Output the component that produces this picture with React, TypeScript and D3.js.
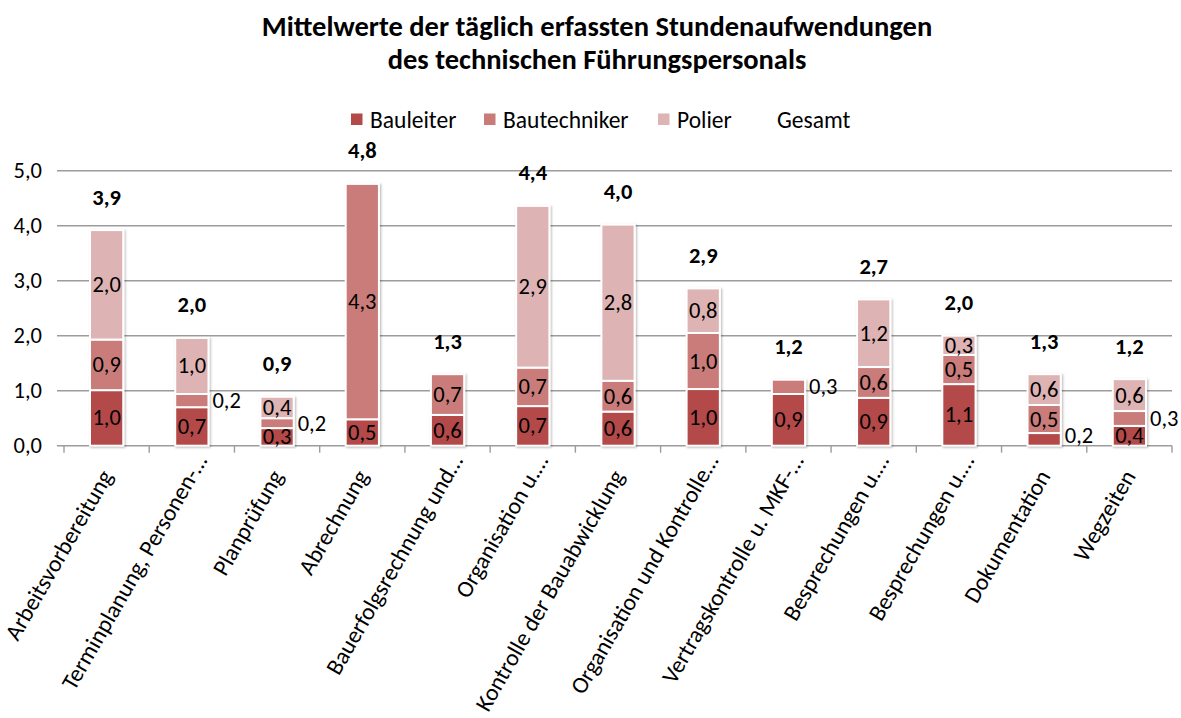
import React from "react";
import * as d3 from "d3";

const categories = [
  "Arbeitsvorbereitung",
  "Terminplanung, Personen-…",
  "Planprüfung",
  "Abrechnung",
  "Bauerfolgsrechnung und…",
  "Organisation u.…",
  "Kontrolle der Bauabwicklung",
  "Organisation und Kontrolle…",
  "Vertragskontrolle u. MKF-…",
  "Besprechungen u.…",
  "Besprechungen u.…",
  "Dokumentation",
  "Wegzeiten",
];
const bauleiter = [1.01, 0.7, 0.32, 0.48, 0.56, 0.72, 0.62, 1.03, 0.94, 0.87, 1.12, 0.23, 0.36];
const bautechniker = [0.92, 0.24, 0.18, 4.28, 0.74, 0.7, 0.56, 1.02, 0.26, 0.56, 0.53, 0.51, 0.27];
const polier = [1.99, 1.02, 0.39, 0, 0, 2.94, 2.84, 0.81, 0, 1.23, 0.35, 0.56, 0.58];
const seriesNames = ["Bauleiter", "Bautechniker", "Polier"];
const totalName = "Gesamt";
const yTicks = [0, 1, 2, 3, 4, 5];
const titleLines = [
  "Mittelwerte der täglich erfassten Stundenaufwendungen",
  "des technischen Führungspersonals",
];
const colors = ["#B34A48", "#C97B7A", "#DEB3B3"];

const W = 1181;
const H = 718;
const FONT = "Carlito, Lato, 'Open Sans', sans-serif";
const FS = 23.5;
const FN = 22.5;

const fmt = (v: number) => v.toFixed(1).replace(".", ",");

export default function App() {
  const rows = categories.map((c, i) => ({
    i,
    Bauleiter: bauleiter[i],
    Bautechniker: bautechniker[i],
    Polier: polier[i],
  }));
  const totals = rows.map((r) => r.Bauleiter + r.Bautechniker + r.Polier);
  const stack = d3.stack<any>().keys(seriesNames);
  const layers = stack(rows);

  const x = d3
    .scaleBand<number>()
    .domain(categories.map((_, i) => i))
    .range([64, 1172])
    .paddingInner(0.61)
    .paddingOuter(0.305);
  const y = d3.scaleLinear().domain([0, 5]).range([445.7, 170.7]);
  const bw = x.bandwidth();
  const step = x.step();

  const legendSquares = [351, 484, 658];
  const legendTexts = [370, 503, 677, 777];

  return (
    <div style={{ position: "absolute", left: 0, top: 0 }}>
      <svg width={W} height={H} style={{ display: "block", background: "#fff" }} fontFamily={FONT}>
        <defs>
          <filter id="sh" x="-20%" y="-5%" width="150%" height="110%">
            <feDropShadow dx="1.2" dy="1" stdDeviation="1.3" floodColor="#000" floodOpacity="0.28" />
          </filter>
        </defs>
        <rect width={W} height={H} fill="#fff" />
        {/* title */}
        <text x={597} y={36} textAnchor="middle" fontSize={28.5} fontWeight="bold" fill="#000">
          {titleLines[0]}
        </text>
        <text x={597} y={69} textAnchor="middle" fontSize={28.5} fontWeight="bold" fill="#000">
          {titleLines[1]}
        </text>
        {/* legend */}
        {seriesNames.map((s, k) => (
          <g key={s}>
            <rect x={legendSquares[k]} y={113.5} width={11.5} height={11.5} fill={colors[k]} />
            <text x={legendTexts[k]} y={119.5} dominantBaseline="central" fontSize={FS}>
              {s}
            </text>
          </g>
        ))}
        <text x={legendTexts[3]} y={119.5} dominantBaseline="central" fontSize={FS}>
          {totalName}
        </text>
        {/* grid */}
        {yTicks.map((t) => (
          <g key={t}>
            <line x1={57} x2={1172} y1={y(t)} y2={y(t)} stroke="#9c9c9c" strokeWidth={1.4} />
            <text x={42} y={y(t)} textAnchor="end" dominantBaseline="central" fontSize={FN}>
              {fmt(t)}
            </text>
          </g>
        ))}
        {/* x ticks */}
        {d3.range(categories.length + 1).map((k) => (
          <line
            key={k}
            x1={64 + k * step}
            x2={64 + k * step}
            y1={y(0)}
            y2={y(0) + 7}
            stroke="#9c9c9c"
            strokeWidth={1.4}
          />
        ))}
        {/* bars */}
        {rows.map((r, i) => (
          <g key={i} filter="url(#sh)">
            {layers.map((layer, k) => {
              const d = layer[i];
              const h = y(d[0]) - y(d[1]);
              if (h <= 0) return null;
              return (
                <rect
                  key={k}
                  x={x(i)!}
                  y={y(d[1])}
                  width={bw}
                  height={h}
                  fill={colors[k]}
                  stroke="#fff"
                  strokeWidth={2}
                />
              );
            })}
          </g>
        ))}
        {/* segment labels */}
        {rows.map((r, i) =>
          layers.map((layer, k) => {
            const d = layer[i];
            const v = d[1] - d[0];
            if (v <= 0) return null;
            const cy = y((d[0] + d[1]) / 2);
            const outside = v < 0.3;
            return (
              <text
                key={`${i}-${k}`}
                x={outside ? x(i)! + bw + 4 : x(i)! + bw / 2}
                y={outside ? Math.min(cy, y(0) - 10) : cy}
                textAnchor={outside ? "start" : "middle"}
                dominantBaseline="central"
                fontSize={FN}
                fill="#000"
              >
                {fmt(v)}
              </text>
            );
          })
        )}
        {/* totals */}
        {totals.map((t, i) => (
          <text
            key={i}
            x={x(i)! + bw / 2}
            y={y(t) - 33}
            textAnchor="middle"
            dominantBaseline="central"
            fontSize={FN}
            fontWeight="bold"
          >
            {fmt(t)}
          </text>
        ))}
        {/* category labels */}
        {categories.map((c, i) => {
          const shift = c.endsWith("…") ? 18 : 0;
          const ax = x(i)! + bw / 2 + 7 + 0.5 * shift;
          const ay = 476 - 0.866 * shift;
          return (
            <text
              key={i}
              x={ax}
              y={ay}
              textAnchor="end"
              fontSize={FS}
              transform={`rotate(-60 ${ax} ${ay})`}
            >
              {c}
            </text>
          );
        })}
      </svg>
    </div>
  );
}
